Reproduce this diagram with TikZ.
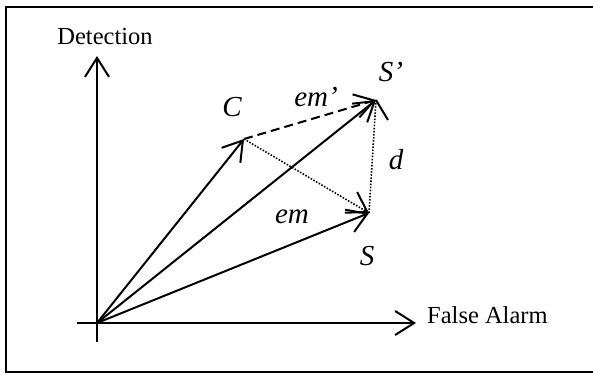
\documentclass[tikz,border=0pt]{standalone}
\usepackage{fontspec}
\setmainfont{Liberation Serif}
\usetikzlibrary{arrows.meta,calc}
\begin{document}
\begin{tikzpicture}[x=1pt,y=-1pt,
  tip/.style={-{Straight Barb[length=19pt,width=24pt,line width=2pt]}},
  vec/.style={line width=2pt,tip},
  axislbl/.style={font=\fontsize{24.5}{28}\selectfont,inner sep=0pt},
  vlbl/.style={font=\fontsize{29}{32}\selectfont\itshape,inner sep=0pt},
  dotline/.style={line width=1.6pt,dash pattern=on 1.5pt off 1.6pt},
  dashline/.style={line width=2pt,dash pattern=on 9pt off 5pt}]
\useasboundingbox (0,0) rectangle (593,374);
\draw[line width=2.8pt] (596,7) -- (6,7) -- (6,372) -- (596,372);
% points
\coordinate (O) at (97,323);
\coordinate (xneg) at (77,323);
\coordinate (xtip) at (416,323);
\coordinate (yneg) at (97,342);
\coordinate (ytip) at (97,56);
\coordinate (C) at (244,139);
\coordinate (Sp) at (376,100);
\coordinate (S) at (369,213);
\coordinate (extra) at (388,120);
% axes
\draw[vec] (xneg) -- (xtip);
\draw[vec] (yneg) -- (ytip);
\node[axislbl] (det) at (105,37) {Detection};
\node[axislbl,anchor=west] (fa) at (427,315) {False Alarm};
% vectors
\draw[vec] (O) -- (C);
\draw[vec] (O) -- (Sp);
\draw[vec] (O) -- (S);
\draw[dashline,tip] (C) -- (Sp);
\draw[dotline] (C) -- (S);
\draw[line width=2pt,tip] ($(S)!0.04!(C)$) -- (S);
\draw[dotline] (Sp) -- (S);
\draw[line width=2pt] (Sp) -- (extra);
% labels
\node[vlbl] (lC) at (232,107) {C};
\node[vlbl] (lSp) at (391,72) {S’};
\node[vlbl] (lem2) at (316,97) {em’};
\node[vlbl] (ld) at (396,160) {d};
\node[vlbl] (lem) at (292,217) {em};
\node[vlbl] (lS) at (367,256) {S};
\end{tikzpicture}
\end{document}
